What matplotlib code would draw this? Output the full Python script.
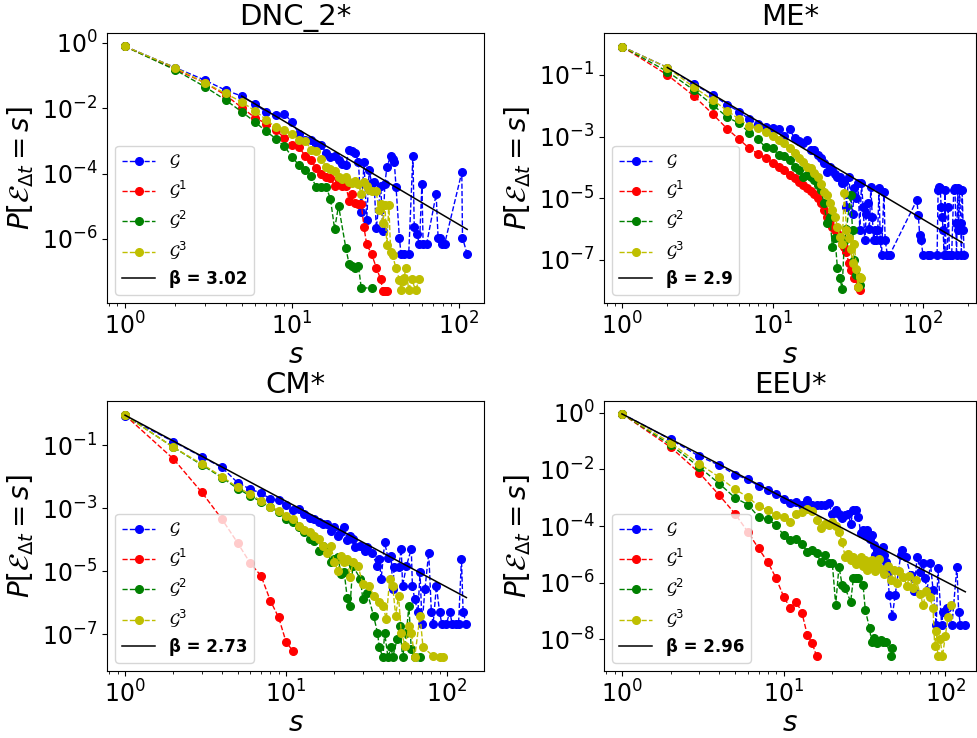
import numpy as np
import matplotlib
matplotlib.use("Agg")
import matplotlib.pyplot as plt

# ---- DNC_2* ----
dnc_s_g = [1, 2, 3, 4, 5, 6, 7, 8, 9, 10, 11, 12, 13, 14, 15, 16, 17, 18, 19, 20,
           21, 22, 23, 24, 25, 26, 27, 28, 29, 30, 31, 32, 34, 35, 36, 37, 39, 40, 41, 42,
           44, 45, 47, 50, 53, 54, 56, 58, 60, 61, 64, 73, 75, 77, 79, 82, 104, 105, 112]
dnc_g = [-0.11, -0.76, -1.14, -1.45, -1.63, -1.88, -2.11, -2.22, -2.18, -2.42,
         -2.78, -2.98, -2.96, -3.12, -3.14, -3.37, -3.5, -3.45, -3.6, -3.7,
         -3.75, -3.27, -3.31, -3.37, -3.65, -5.19, -3.65, -5.43, -3.9, -4.3,
         -4.27, -5.67, -4.37, -5.75, -4.32, -3.81, -3.45, -3.55, -3.65, -4.42,
         -5.98, -6.47, -6.47, -6.47, -3.45, -5.65, -5.86, -6.16, -4.32, -6.16,
         -6.16, -4.63, -5.96, -5.96, -6.16, -6.16, -3.96, -5.96, -6.47]
dnc_s_g1 = list(range(1, 29)) + [30, 32, 34, 35, 36, 37]
dnc_g1 = [-0.11, -0.81, -1.22, -1.6, -1.98, -2.29, -2.47, -2.68, -2.9, -3.14,
          -3.2, -3.45, -3.6, -3.83, -4.0, -4.11, -4.15, -4.37, -4.2, -4.37,
          -4.37, -4.83, -4.63, -4.9, -4.93, -4.93, -5.65, -6.16,
          -6.47, -6.88, -7.24, -7.6, -7.6, -7.6]
dnc_s_g2 = list(range(1, 20)) + [21, 22, 23, 24, 25, 26, 30]
dnc_g2 = [-0.11, -0.83, -1.34, -1.75, -2.11, -2.42, -2.71, -2.93, -3.17, -3.48,
          -3.75, -3.89, -4.09, -4.42, -4.42, -4.4, -4.78, -5.7, -4.98,
          -6.27, -6.78, -6.83, -6.88, -6.83, -7.5, -7.5]
dnc_s_g3 = list(range(1, 31)) + [32, 33, 34, 35, 36, 37, 38, 39, 40,
                                 42, 44, 45, 46, 47, 48, 50, 52, 55, 58]
dnc_g3 = [-0.11, -0.76, -1.22, -1.55, -1.81, -2.08, -2.35, -2.59, -2.66, -2.8,
          -2.96, -3.0, -3.27, -3.3, -3.55, -3.81, -3.86, -3.91, -4.11, -4.16,
          -4.1, -4.27, -4.3, -4.22, -4.32, -4.63, -4.27, -4.37, -4.5, -4.52,
          -4.54, -5.1, -4.93, -5.5, -4.95, -6.2, -4.95, -6.4, -6.5,
          -6.9, -7.25, -7.55, -7.3, -7.2, -6.88, -7.55, -7.24, -7.55, -7.24]

# ---- ME* ----
me_s_g = list(range(1, 54)) + [55, 56, 58, 60, 91, 93, 95, 97, 100, 108, 112, 124, 126, 128,
                               130, 132, 134, 136, 138, 140, 142, 145, 147, 150, 155, 160, 163,
                               165, 167, 170, 172, 175, 178, 180, 182, 185, 188]
me_g = [-0.08, -0.76, -1.30, -1.65, -1.97, -2.19, -2.44, -2.60, -2.68, -2.73,
        -2.75, -2.98, -2.76, -3.06, -3.16, -3.2, -3.11, -3.43, -3.43, -3.6,
        -3.71, -3.87, -4.14, -4.0, -4.08, -4.21, -4.3, -4.3, -4.5, -4.46,
        -5.3, -4.3, -4.9, -5.5, -4.68, -5.0, -4.52, -6.03, -4.52, -5.27,
        -6.36, -5.5, -5.17, -6.0, -4.63, -5.6, -6.36, -6.03, -6.36, -6.03,
        -4.68, -6.36, -6.84, -4.79, -6.36, -6.84, -6.84, -5.06, -5.55, -6.19,
        -6.36, -6.84, -6.84, -6.84, -6.84, -4.73, -4.63, -4.68, -5.27, -5.6,
        -6.03, -6.84, -4.73, -6.84, -6.84, -5.27, -6.84, -6.84, -4.73, -4.68,
        -5.82, -6.84, -4.68, -6.03, -4.73, -5.82, -6.84, -4.73, -6.03, -6.84]
me_s_g1 = list(range(1, 34)) + [35, 37, 38]
me_g1 = [-0.08, -1.0, -1.68, -2.27, -2.75, -3.09, -3.38, -3.56, -3.71, -3.85,
         -3.98, -4.08, -4.25, -4.35, -4.46, -4.57, -4.68, -4.77, -4.86, -5.0,
         -5.17, -5.38, -5.6, -5.7, -5.92, -6.03, -6.14, -6.25, -6.47, -6.57,
         -6.74, -7.11, -7.33, -7.6, -7.87, -7.98]
me_s_g2 = list(range(1, 32)) + [33, 34, 35, 36, 38]
me_g2 = [-0.08, -0.89, -1.49, -1.97, -2.37, -2.57, -2.87, -3.09, -3.35, -3.38,
         -3.6, -3.63, -3.76, -4.0, -4.08, -4.3, -4.25, -4.3, -4.41, -4.57,
         -4.73, -5.17, -5.82, -5.6, -6.57, -6.3, -7.28, -7.6, -7.93, -6.4,
         -6.0, -4.9, -6.03, -7.0, -7.5, -7.8]
me_s_g3 = list(range(1, 40))
me_g3 = [-0.08, -0.76, -1.4, -1.81, -2.16, -2.44, -2.66, -2.73, -2.84, -2.98,
         -3.11, -3.22, -3.38, -3.54, -3.71, -3.81, -3.98, -4.03, -4.19, -4.3,
         -4.54, -4.79, -4.9, -5.17, -5.38, -5.6, -5.92, -6.25, -6.47, -4.84,
         -6.03, -6.3, -6.65, -7.1, -6.47, -7.3, -7.87, -7.55, -7.6]

# ---- CM* ----
cm_s_g = list(range(1, 26)) + [26, 27, 29, 31, 32, 34, 37, 38, 39, 41,
                               43, 45, 46, 47, 50, 52, 53, 56, 60, 61,
                               63, 66, 68, 70, 73, 77, 80, 82, 86, 90,
                               93, 99, 104, 108, 113, 118, 123, 126, 132]
cm_g = [-0.09, -0.89, -1.37, -1.71, -2.19, -2.40, -2.52, -2.71, -2.75, -2.9,
        -3.05, -3.03, -3.18, -3.3, -3.35, -3.43, -3.51, -3.5, -3.72, -3.61,
        -3.88, -3.75, -3.61, -4.0, -3.9,
        -3.98, -4.25, -4.2, -4.35, -4.25, -4.41, -4.83, -4.62, -5.25, -4.09,
        -4.57, -4.51, -5.57, -4.88, -4.88, -4.3, -5.47, -4.83, -4.3, -5.47,
        -5.89, -6.31, -5.04, -6.68, -5.57, -4.41, -6.31, -6.68, -5.47, -6.31,
        -6.68, -6.68, -6.31, -6.68, -6.68, -6.68, -4.62, -6.31, -6.68]
cm_s_g1 = list(range(1, 12))
cm_g1 = [-0.05, -1.44, -2.5, -3.35, -4.1, -4.75, -5.15, -5.94, -6.47, -7.24, -7.53]
cm_s_g2 = list(range(1, 27)) + [29, 30, 32, 35, 37, 38, 40, 41, 43, 45,
                                46, 49, 51, 53, 56, 58, 60, 63, 68]
cm_g2 = [-0.05, -1.07, -1.63, -2.03, -2.38, -2.61, -2.8, -2.98, -3.12, -3.35,
         -3.43, -3.61, -3.77, -3.98, -4.04, -4.35, -4.2, -4.3, -4.72, -4.6,
         -4.55, -5.1, -5.04, -5.84, -6.1, -4.83,
         -5.25, -5.89, -5.68, -6.42, -6.95, -7.42, -7.74, -6.95, -7.74, -7.42,
         -7.74, -7.16, -6.74, -7.74, -6.95, -6.1, -7.48, -7.74, -7.74]
cm_s_g3 = list(range(1, 27)) + [28, 30, 33, 35, 38, 40, 42, 44, 46, 48,
                                50, 52, 55, 58, 60, 63, 68, 71, 82, 90, 95]
cm_g3 = [-0.05, -1.07, -1.6, -2.0, -2.34, -2.56, -2.77, -2.95, -3.08, -3.24,
         -3.35, -3.56, -3.69, -3.77, -3.9, -3.97, -4.2, -4.41, -4.2, -4.72,
         -4.99, -4.51, -4.72, -4.62, -5.2, -4.72,
         -4.83, -5.41, -5.47, -5.78, -5.99, -6.1, -6.52, -5.25, -5.47, -6.42,
         -5.78, -6.95, -7.37, -6.74, -6.95, -7.74, -6.42, -7.42, -7.69, -7.74, -7.74]

# ---- EEU* ----
eeu_s_g = list(range(1, 46)) + [47, 49, 53, 54, 57, 61, 64, 67, 70, 73, 75, 77,
                                81, 84, 88, 90, 95, 97, 102, 110, 118, 121, 124, 133]
eeu_g = [-0.03, -0.94, -1.53, -1.85, -2.18, -2.35, -2.58, -2.73, -2.85, -3.03,
         -3.2, -3.15, -3.26, -3.09, -3.24, -3.24, -3.26, -3.26, -3.2, -3.56,
         -3.44, -3.56, -3.73, -3.6, -3.56, -3.91, -3.44, -3.44, -3.67, -4.26,
         -4.14, -4.32, -4.14, -4.44, -4.32, -4.67, -5.02, -4.85, -5.14, -4.85,
         -4.73, -5.02, -5.26, -5.61, -6.43, -7.19, -6.43, -5.02, -4.85, -5.08,
         -5.73, -6.31, -5.08, -5.61, -5.32, -5.85, -6.31, -5.32, -6.26, -7.49,
         -5.49, -7.49, -7.02, -6.9, -7.49, -5.43, -7.02, -7.49, -7.49]
eeu_s_g1 = list(range(1, 17))
eeu_g1 = [-0.03, -1.21, -2.11, -2.91, -3.56, -4.2, -4.79, -5.28, -5.85, -6.49,
          -6.9, -6.67, -7.08, -7.84, -8.13, -8.6]
eeu_s_g2 = list(range(1, 25)) + [26, 27, 28, 29, 31, 32, 34, 35, 36, 38, 40, 41, 43, 46, 47]
eeu_g2 = [-0.03, -1.13, -1.91, -2.5, -3.0, -3.24, -3.67, -3.76, -3.97, -4.32,
          -4.5, -4.44, -4.65, -4.9, -4.85, -4.96, -5.28, -5.02, -5.32, -5.3,
          -6.78, -5.43, -6.08, -6.2, -6.67, -5.85, -5.85, -5.85, -6.08, -6.96,
          -7.61, -8.08, -7.96, -8.13, -8.02, -8.08, -8.08, -8.6, -8.31]
eeu_s_g3 = list(range(1, 41)) + [42, 44, 46, 48, 50, 52, 55, 58, 60, 63,
                                 66, 70, 73, 76, 80, 84, 86, 88, 90, 93,
                                 96, 100, 104, 108]
eeu_g3 = [-0.03, -1.06, -1.8, -2.27, -2.7, -2.97, -3.29, -3.44, -3.62, -3.67,
          -3.85, -3.56, -3.5, -3.38, -3.47, -3.79, -4.08, -3.91, -3.97, -3.86,
          -4.0, -4.2, -4.55, -5.08, -5.0, -5.2, -5.08, -5.35, -5.3, -5.1,
          -5.4, -5.2, -5.55, -5.3, -5.2, -5.45, -5.6, -5.3, -5.15, -5.5,
          -5.7, -5.4, -5.9, -5.55, -6.0, -5.6, -5.8, -6.1, -5.75, -6.2,
          -5.9, -6.4, -6.8, -6.3, -6.5, -6.9, -8.25, -7.7, -8.6, -8.0,
          -8.6, -7.9, -7.2, -6.78]

titles = ["DNC_2*", "ME*", "CM*", "EEU*"]
betas = [3.02, 2.9, 2.73, 2.96]
fit_log_amp = [0.481, 0.113, -0.05, -0.035]  # log10 of prefactor
fit_range = [(5, 112), (2, 182), (1, 132), (1, 133)]

# axis limits as log10 exponents
xlims = [(-0.108, 2.150), (-0.12, 2.352), (-0.112, 2.23), (-0.111, 2.19)]
ylims = [(-7.96, 0.3), (-8.4, 0.36), (-8.17, 0.40), (-9.12, 0.42)]

panels = [
    [(dnc_s_g, dnc_g), (dnc_s_g1, dnc_g1), (dnc_s_g2, dnc_g2), (dnc_s_g3, dnc_g3)],
    [(me_s_g, me_g), (me_s_g1, me_g1), (me_s_g2, me_g2), (me_s_g3, me_g3)],
    [(cm_s_g, cm_g), (cm_s_g1, cm_g1), (cm_s_g2, cm_g2), (cm_s_g3, cm_g3)],
    [(eeu_s_g, eeu_g), (eeu_s_g1, eeu_g1), (eeu_s_g2, eeu_g2), (eeu_s_g3, eeu_g3)],
]
labels = [r'$\mathcal{G}$', r'$\mathcal{G}^1$', r'$\mathcal{G}^2$', r'$\mathcal{G}^3$']
colors = ['b', 'r', 'g', 'y']

W, H = 977, 738
fig = plt.figure(figsize=(W / 100, H / 100), dpi=100)
# axes boxes in pixels: left, top, width
boxes = [(107, 33, 377), (604, 33, 372), (107, 401, 377), (604, 401, 372)]
ah = 270

for k in range(4):
    left, top, aw = boxes[k]
    ax = fig.add_axes([left / W, 1 - (top + ah) / H, aw / W, ah / H])
    for (s, lp), lab, c in zip(panels[k], labels, colors):
        assert len(s) == len(lp)
        ax.loglog(s, 10 ** np.array(lp), 'o--', color=c, label=lab,
                  markersize=5.5, linewidth=1)
    x0, x1 = fit_range[k]
    xs = np.array([x0, x1], dtype=float)
    ax.loglog(xs, 10 ** fit_log_amp[k] * xs ** (-betas[k]), '-', color='black',
              linewidth=1.1, label='β = ' + str(betas[k]))
    ax.set_xlim(10 ** xlims[k][0], 10 ** xlims[k][1])
    ax.set_ylim(10 ** ylims[k][0], 10 ** ylims[k][1])
    ax.set_title(titles[k], fontsize=21)
    ax.set_xlabel(r'$s$', fontsize=20, labelpad=1)
    ax.set_ylabel(r'$P[\mathcal{E}_{\Delta t} = s]$', fontsize=20)
    ax.tick_params(axis='both', which='major', labelsize=17)
    leg = ax.legend(loc='lower left', fontsize=12)
    leg.get_texts()[-1].set_fontweight('bold')

fig.savefig('out.png', dpi=100)
